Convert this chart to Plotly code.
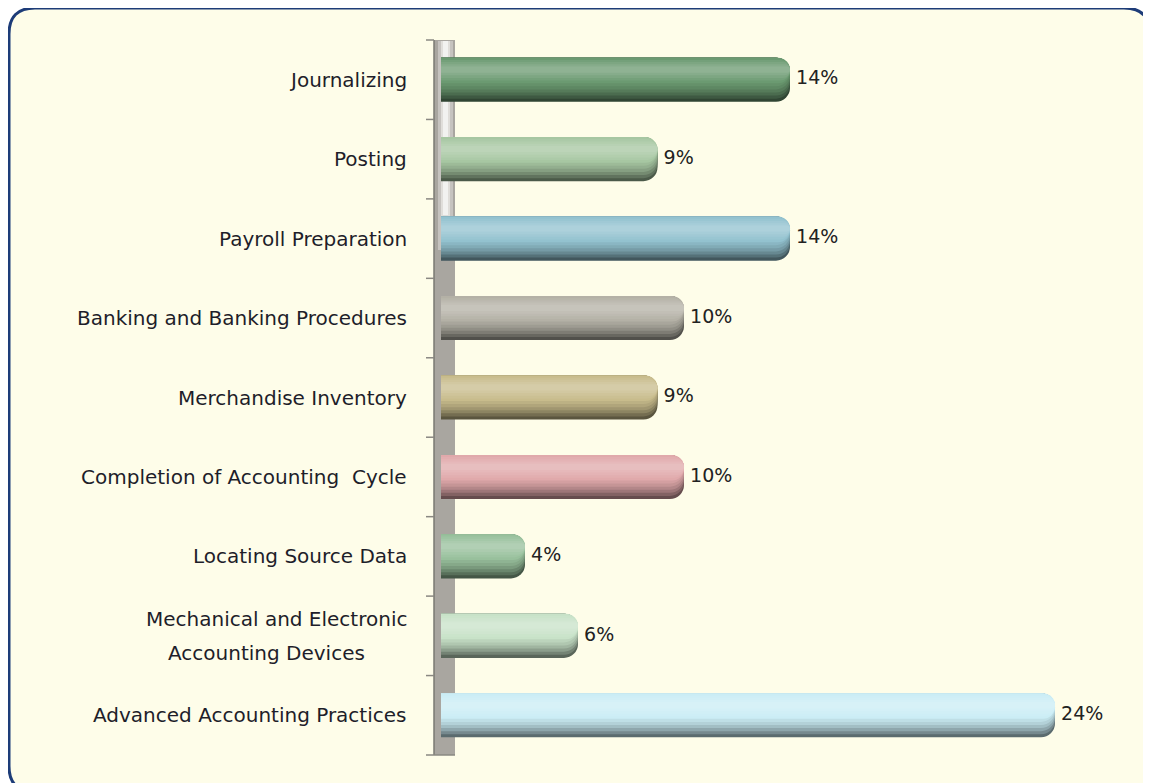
import plotly.graph_objects as go

categories = [
    "Journalizing",
    "Posting",
    "Payroll Preparation",
    "Banking and Banking Procedures",
    "Merchandise Inventory",
    "Completion of Accounting  Cycle",
    "Locating Source Data",
    "Mechanical and Electronic<br>Accounting Devices",
    "Advanced Accounting Practices",
]
values = [14, 9, 14, 10, 9, 10, 4, 6, 24]
value_labels = [f"{v}%" for v in values]

bar_colors = [
    "#6b9a71", "#a7c7a2", "#93c2cf", "#b4b1a6", "#c8bc8c",
    "#e0a9ab", "#98c09c", "#c8e2c8", "#cbedf5",
]

# page offset: the figure div sits 8px inside the page
OFF = 8
W, H = 1151 - OFF, 783 - OFF
# layout positions in page pixels
PL, PR, PT, PB = 441, 1130, 40, 755
PX_PER = 26.5
ZERO_PX = 419
x_range = [(PL - ZERO_PX) / PX_PER, (PR - ZERO_PX) / PX_PER]


def hex2rgb(h):
    h = h.lstrip("#")
    return [int(h[i:i + 2], 16) for i in (0, 2, 4)]


def mix(h, target, t):
    r = hex2rgb(h)
    return "rgb(%d,%d,%d)" % tuple(round(c + (target - c) * t) for c in r)


def px2paper_x(px):
    return (px - PL) / (PR - PL)


def px2paper_y(py):
    return (PB - py) / (PB - PT)


fig = go.Figure()

THICK = 0.555
layers = [
    # (top frac, bottom frac, target, amount, cornerradius)
    (0.00, 1.00, 0, 0.55, 14),
    (0.00, 0.93, 0, 0.42, 14),
    (0.00, 0.86, 0, 0.30, 14),
    (0.00, 0.79, 0, 0.20, 14),
    (0.00, 0.72, 0, 0.12, 14),
    (0.00, 0.65, 0, 0.06, 14),
    (0.00, 0.58, 0, 0.00, 14),
    (0.05, 0.52, 255, 0.06, 10),
    (0.10, 0.46, 255, 0.12, 8),
    (0.15, 0.40, 255, 0.18, 5),
    (0.20, 0.34, 255, 0.24, 3),
]

for f0, f1, tgt, amt, cr in layers:
    fig.add_trace(go.Bar(
        x=values,
        y=categories,
        orientation="h",
        marker=dict(color=[mix(c, tgt, amt) for c in bar_colors], line=dict(width=0),
                    cornerradius=cr),
        offset=-THICK / 2 + f0 * THICK,
        width=(f1 - f0) * THICK,
        hoverinfo="skip",
        showlegend=False,
    ))

fig.add_trace(go.Scatter(
    x=values,
    y=categories,
    mode="text",
    text=["\u00a0" + t for t in value_labels],
    textposition="middle right",
    textfont=dict(family="DejaVu Sans, Verdana, sans-serif", size=19, color="#222222"),
    hoverinfo="skip",
    showlegend=False,
    cliponaxis=False,
))

shapes = []
# rounded background panel
L, T, R, B, r = 9, 8, 1150, 792, 26
pts = lambda x, y: f"{px2paper_x(x):.5f},{px2paper_y(y):.5f}"
path = (f"M {pts(L + r, T)} L {pts(R - r, T)} Q {pts(R, T)} {pts(R, T + r)} "
        f"L {pts(R, B - r)} Q {pts(R, B)} {pts(R - r, B)} L {pts(L + r, B)} "
        f"Q {pts(L, B)} {pts(L, B - r)} L {pts(L, T + r)} Q {pts(L, T)} {pts(L + r, T)} Z")
shapes.append(dict(type="path", xref="paper", yref="paper", path=path,
                   fillcolor="#fefde9", line=dict(color="#1d3c78", width=3), layer="below"))
# axis wall
shapes.append(dict(type="rect", xref="paper", yref="paper",
                   x0=px2paper_x(434), x1=px2paper_x(455), y0=px2paper_y(PB), y1=px2paper_y(PT),
                   fillcolor="#a9a6a0", line=dict(width=0), layer="below"))
for (xa, xb, ya, yb, col, op) in [
    (438, 453, 250, PT + 1, "#c9c7c2", 0.9),
    (441, 450, 235, PT + 1, "#e2e1dd", 0.9),
    (443, 448, 215, PT + 1, "#f4f4f2", 0.9),
]:
    shapes.append(dict(type="rect", xref="paper", yref="paper",
                       x0=px2paper_x(xa), x1=px2paper_x(xb), y0=px2paper_y(ya), y1=px2paper_y(yb),
                       fillcolor=col, opacity=op, line=dict(width=0), layer="below"))
shapes.append(dict(type="line", xref="paper", yref="paper",
                   x0=px2paper_x(434), x1=px2paper_x(434), y0=px2paper_y(PB), y1=px2paper_y(PT),
                   line=dict(color="#7a7872", width=1.5), layer="below"))
n = len(categories)
for k in range(n + 1):
    yy = k / n
    x1 = px2paper_x(455) if k == 0 else px2paper_x(434)
    shapes.append(dict(type="line", xref="paper", yref="paper",
                       x0=px2paper_x(426), x1=x1, y0=yy, y1=yy,
                       line=dict(color="#8a8882", width=1.5), layer="below"))

LABEL_SIZE = 20
annotations = []
for cat in categories:
    lines = cat.split("<br>")
    nl = len(lines)
    for i, ln in enumerate(lines):
        xshift = 0
        if i > 0:
            xshift = -(len(lines[0]) - len(ln)) * 0.30 * LABEL_SIZE
        annotations.append(dict(
            x=px2paper_x(409), xref="paper", y=cat, yref="y",
            text=ln, showarrow=False, xanchor="right", yanchor="middle",
            xshift=xshift, yshift=((nl - 1) / 2 - i) * 34,
            font=dict(family="Comic Sans MS, DejaVu Sans, sans-serif", size=LABEL_SIZE,
                      color="#1e1e2a"),
        ))

fig.update_layout(
    width=W, height=H,
    margin=dict(l=PL - OFF, r=(W + OFF) - PR, t=PT - OFF, b=(H + OFF) - PB),
    paper_bgcolor="white",
    plot_bgcolor="rgba(0,0,0,0)",
    barmode="overlay",
    shapes=shapes,
    annotations=annotations,
    xaxis=dict(range=x_range, visible=False, fixedrange=True),
    yaxis=dict(autorange="reversed", showticklabels=False, showgrid=False,
               zeroline=False, showline=False, ticks="", fixedrange=True),
    showlegend=False,
)

fig.write_html("out.html")
